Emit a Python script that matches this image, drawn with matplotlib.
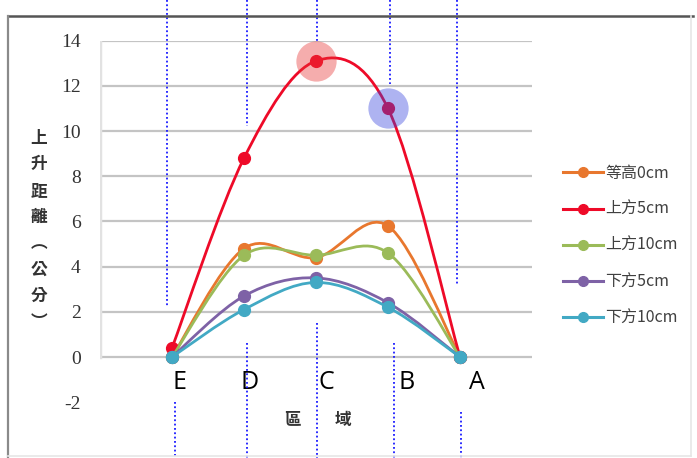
import matplotlib
matplotlib.use("Agg")
import matplotlib.pyplot as plt
from matplotlib.path import Path
from matplotlib.patches import PathPatch
from matplotlib.lines import Line2D

plt.rcParams["axes.unicode_minus"] = False

# ---- data -------------------------------------------------------------
zones = ["E", "D", "C", "B", "A"]
zone_x = [1, 2, 3, 4, 5]

series_names = ["等高0cm", "上方5cm", "上方10cm", "下方5cm", "下方10cm"]
level_0 = [0.0, 4.8, 4.4, 5.8, 0.0]
above_5 = [0.4, 8.8, 13.1, 11.0, 0.0]
above_10 = [0.0, 4.5, 4.5, 4.6, 0.0]
below_5 = [0.0, 2.7, 3.5, 2.4, 0.0]
below_10 = [0.0, 2.1, 3.3, 2.2, 0.0]
series_values = [level_0, above_5, above_10, below_5, below_10]
series_colors = ["#E8772E", "#EE0A28", "#9BBB59", "#7E62A6", "#42A9C4"]

y_ticks = [-2, 0, 2, 4, 6, 8, 10, 12, 14]
grid_levels = [0, 2, 4, 6, 8, 10, 12, 14]

# highlighted points of the 上方5cm series: (index, colour)
highlights = [(2, "#E83434"), (3, "#3543DC")]

# zone letter offsets (data units) and dotted guide segments (x, y0, y1)
letter_dx = [0.11, 0.08, 0.15, 0.26, 0.24]
guides = [
    (0.93, 15.8, 2.2), (1.04, -2.0, -4.5),
    (2.04, 15.8, 10.2), (2.04, 0.62, -4.5),
    (3.01, 15.8, 14.0), (3.01, 1.5, -4.5),
    (4.03, 15.8, 12.1), (4.08, 0.62, -4.5),
    (4.96, 15.8, 3.14), (5.01, -2.43, -4.5),
]

W, H = 697, 458
fig = plt.figure(figsize=(W / 100, H / 100), dpi=100)
fig.patch.set_facecolor("white")


def fx(px):
    return px / W


def fy(py):
    return 1 - py / H


# outer frame: strong top and left edges, faint right and bottom edges
fig.add_artist(Line2D([fx(8), fx(693)], [fy(15.5), fy(15.5)],
                      color="#555555", lw=1.8))
fig.add_artist(Line2D([fx(8), fx(8)], [fy(15.5), fy(458)],
                      color="#8a8a8a", lw=1.6))
fig.add_artist(Line2D([fx(691), fx(691)], [fy(16), fy(456)],
                      color="#e6e6e6", lw=1.2))
fig.add_artist(Line2D([fx(8), fx(691)], [fy(456), fy(456)],
                      color="#e6e6e6", lw=1.2))

ax = fig.add_axes([100 / W, (H - 402.2) / H, 432 / W, (402.2 - 40.6) / H])
ax.set_xlim(0, 6)
ax.set_ylim(-2, 14)
for s in ax.spines.values():
    s.set_visible(False)
ax.set_xticks([])
ax.set_yticks(y_ticks)
ax.tick_params(axis="y", length=0, pad=14)
for lab in ax.get_yticklabels():
    lab.set_fontfamily("Liberation Serif")
    lab.set_fontsize(14)
    lab.set_color("#333333")

for g in grid_levels:
    ax.axhline(g, color="#c4c4c4", lw=1.6, zorder=1)
ax.plot([0, 0], [0, 14], color="#e2e2e2", lw=2.5, zorder=1)


def smooth_path(xs, ys, t=1 / 6):
    pts = list(zip(xs, ys))
    n = len(pts)
    verts = [pts[0]]
    codes = [Path.MOVETO]
    for i in range(n - 1):
        p0 = pts[max(i - 1, 0)]
        p1 = pts[i]
        p2 = pts[i + 1]
        p3 = pts[min(i + 2, n - 1)]
        c1 = (p1[0] + (p2[0] - p0[0]) * t, p1[1] + (p2[1] - p0[1]) * t)
        c2 = (p2[0] - (p3[0] - p1[0]) * t, p2[1] - (p3[1] - p1[1]) * t)
        verts += [c1, c2, p2]
        codes += [Path.CURVE4] * 3
    return Path(verts, codes)


for k, (vals, col) in enumerate(zip(series_values, series_colors)):
    patch = PathPatch(smooth_path(zone_x, vals), facecolor="none",
                      edgecolor=col, lw=2.0, zorder=3 + k)
    ax.add_patch(patch)
    ax.plot(zone_x, vals, "o", color=col, ms=8.5, mec=col, zorder=3 + k)

# translucent halos on selected points
for idx, col in highlights:
    ax.plot(zone_x[idx], above_5[idx], "o", ms=29, color=col, alpha=0.4,
            mec="none", zorder=10)

# zone letters
for x, name, dx in zip(zone_x, zones, letter_dx):
    ax.text(x + dx, -1.15, name, ha="center", va="center",
            fontsize=18, family="Open Sans", color="black", zorder=12)

# dotted guides
for gx, y0, y1 in guides:
    ax.plot([gx, gx], [y0, y1], color="#1a1aff", lw=1.3, ls=(0, (1, 1.4)),
            clip_on=False, zorder=15)

# axis titles
ylab = "上升距離︵公分︶"
for i, ch in enumerate(ylab):
    fig.text(fx(39), fy(138 + i * 26.3), ch, ha="center", va="center",
             fontsize=12, family=["Noto Sans CJK TC", "DejaVu Sans"],
             color="#333333", weight="bold")
fig.text(fx(318), fy(420), "區　　域", ha="center", va="center",
         fontsize=12, family=["Noto Sans CJK TC", "DejaVu Sans"],
         color="#333333", weight="bold")

# legend
handles = [Line2D([], [], color=c, lw=2.2, marker="o", ms=7)
           for c in series_colors]
leg = fig.legend(handles, series_names, loc="upper left",
                 bbox_to_anchor=(fx(555), fy(157)), frameon=False,
                 handlelength=2.5, handletextpad=0.15, labelspacing=1.2,
                 borderpad=0, prop={"family": ["Noto Sans CJK TC", "DejaVu Sans"],
                                    "size": 11.5})
for t in leg.get_texts():
    t.set_color("#404040")

fig.savefig("out.png", dpi=100)
